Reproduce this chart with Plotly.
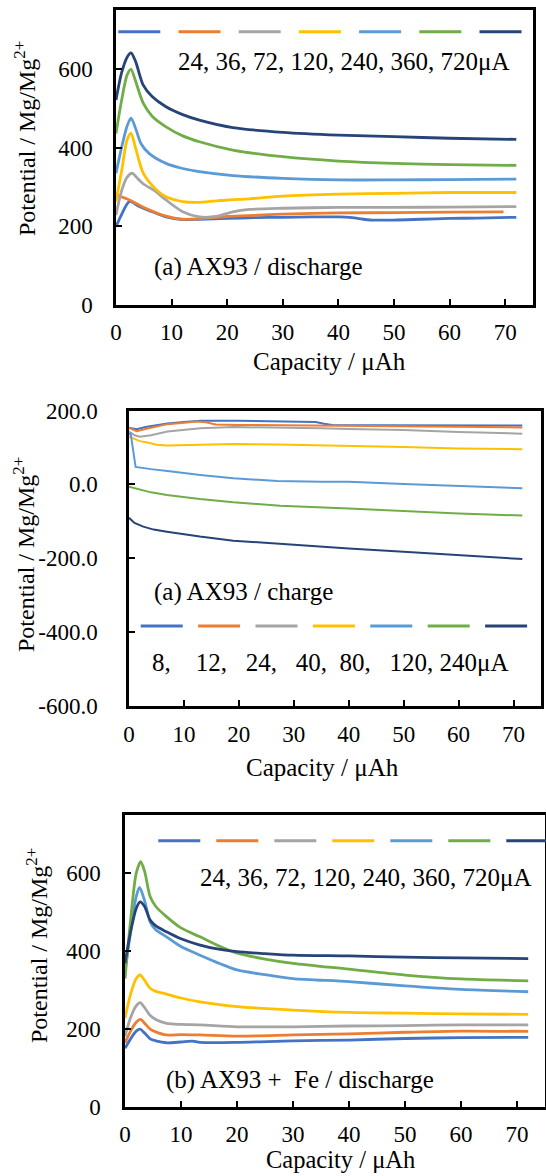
import plotly.graph_objects as go

W, H = 546, 1176
FONT = "Liberation Serif, Times New Roman, Tinos, DejaVu Serif, serif"
COLORS = ["#4472C4", "#ED7D31", "#A5A5A5", "#FFC000", "#5B9BD5", "#70AD47", "#264478"]

# ---------------- Panel 1: AX93 / discharge (24..720 uA) ----------------
p1_labels = ["24", "36", "72", "120", "240", "360", "720"]
p1_x = [
    [0, 1, 2.4, 4, 6, 9, 12, 15, 20, 25, 30, 35, 40, 42, 44, 46, 50, 55, 60, 65, 72],
    [0, 2.4, 5, 9, 12, 15, 20, 25, 30, 40, 50, 60, 69.7],
    [0, 1, 2, 2.9, 4, 5, 7, 9, 12, 15, 18, 21, 24, 30, 40, 50, 60, 72],
    [0, 1, 2, 2.7, 3.5, 4.9, 6.7, 9, 12, 15, 20, 24, 30, 40, 50, 60, 72],
    [0, 1, 2, 2.7, 3.5, 4.5, 6, 9, 12, 15, 21, 30, 40, 50, 60, 72],
    [0, 1, 2, 2.7, 3.5, 4.9, 6.5, 9, 12, 15, 21, 30, 40, 50, 60, 72],
    [0, 1, 2, 2.7, 3.5, 4.9, 6.5, 9, 12, 15, 21, 30, 40, 50, 60, 72],
]
p1_y = [
    [199, 230, 263, 252, 240, 224, 217, 218, 220, 222, 223, 224, 224, 223, 219, 216, 216, 218, 220, 221, 223],
    [280, 267, 248, 226, 218, 219, 225, 228, 231, 234, 235, 236, 237],
    [229, 290, 325, 335, 320, 307, 290, 267, 237, 224, 225, 237, 243, 246, 248, 248, 249, 250],
    [263, 340, 420, 437, 400, 335, 301, 275, 263, 261, 267, 270, 277, 282, 284, 286, 286],
    [335, 400, 455, 475, 450, 410, 385, 360, 347, 339, 329, 322, 318, 318, 319, 320],
    [436, 520, 585, 599, 570, 513, 480, 453, 430, 415, 394, 377, 366, 360, 357, 355],
    [521, 590, 630, 641, 620, 559, 530, 504, 484, 470, 451, 439, 432, 428, 424, 421],
]

# ---------------- Panel 2: AX93 / charge (8..240 uA) ----------------
p2_labels = ["8", "12", "24", "40", "80", "120", "240"]
p2_x = [
    [0, 1.4, 3, 5, 7, 10, 13, 20, 27, 34, 35.5, 37, 45, 55, 65, 71.6],
    [0, 1.4, 3, 5, 7, 10, 12.4, 14, 15.8, 20, 30, 35, 45, 55, 65, 71.6],
    [0, 1, 2, 4, 7, 10, 13, 19, 27, 35, 40, 50, 60, 71.6],
    [0, 1, 2, 3.8, 5, 7, 10, 13, 19, 27, 35, 40, 50, 60, 71.6],
    [0, 0.3, 1.2, 2, 4, 7, 10, 13, 19, 27, 35, 40, 50, 60, 71.6],
    [0, 2, 4, 6.9, 12.9, 19, 27.5, 40, 50, 60, 71.6],
    [0, 1, 2.6, 4.5, 6.9, 12.9, 19, 27.5, 40, 50, 60, 71.6],
]
p2_y = [
    [153, 149, 155, 161, 165, 169, 172, 172, 171, 169, 164, 161, 160, 160, 159, 159],
    [153, 144, 150, 157, 163, 167, 170, 168, 162, 161, 160, 159, 158, 157, 155, 154],
    [143, 133, 129, 133, 143, 148, 152, 155, 154, 152, 150, 147, 142, 137],
    [129, 123, 117, 112, 107, 105, 106, 108, 109, 108, 106, 105, 101, 97, 95],
    [135, 138, 47, 45, 41, 36, 30, 25, 16, 9, 7, 7, 1, -5, -11],
    [-7, -15, -22, -29, -40, -49, -58, -66, -73, -79, -85],
    [-91, -105, -115, -123, -129, -142, -153, -162, -174, -183, -192, -203],
]

# ---------------- Panel 3: AX93 + Fe / discharge (24..720 uA) ----------------
p3_labels = ["24", "36", "72", "120", "240", "360", "720"]
p3_x = [
    [0, 1, 2, 2.7, 3.5, 4.5, 5.5, 7.4, 10, 12, 13.4, 20, 30, 40, 50, 60, 72],
    [0, 1, 2, 2.8, 3.5, 4.5, 5.5, 7.4, 10, 13.4, 20, 30, 40, 50, 60, 72],
    [0, 1, 2, 2.7, 3.5, 4.5, 5.5, 7.4, 10, 13.4, 20, 30, 40, 50, 60, 72],
    [0, 1, 2, 2.7, 3.5, 4.5, 5.5, 7.4, 10, 13.4, 20, 30, 40, 50, 60, 72],
    [0, 1, 2, 2.6, 3.5, 4.5, 5.5, 7.4, 10, 13.4, 17, 20, 25, 30, 40, 50, 60, 72],
    [0, 1, 2, 2.8, 3.5, 4.5, 5.5, 7.4, 10, 13.4, 17, 20, 25, 30, 40, 50, 60, 72],
    [0, 1, 2, 2.7, 3.5, 4.5, 5.5, 7.4, 10, 13.4, 17, 20, 25, 30, 40, 50, 60, 72],
]
p3_y = [
    [151, 175, 195, 200, 190, 175, 170, 165, 167, 169, 166, 166, 170, 172, 176, 178, 179],
    [165, 195, 218, 225, 215, 200, 193, 185, 186, 185, 182, 185, 188, 192, 195, 194],
    [181, 230, 260, 268, 255, 235, 225, 215, 212, 211, 206, 206, 208, 209, 211, 211],
    [228, 290, 330, 339, 325, 305, 297, 290, 280, 270, 258, 249, 243, 241, 239, 238],
    [350, 450, 540, 564, 530, 475, 455, 437, 412, 390, 368, 352, 340, 330, 322, 311, 302, 296],
    [330, 480, 600, 630, 605, 540, 515, 489, 460, 437, 412, 395, 380, 369, 354, 339, 329, 324],
    [369, 450, 510, 527, 515, 480, 465, 450, 432, 416, 405, 399, 394, 390, 388, 385, 383, 381],
]

x_ticks = [0, 10, 20, 30, 40, 50, 60, 70]
dis_y_ticks = [0, 200, 400, 600]
chg_y_ticks = [-600, -400, -200, 0, 200]
chg_y_ticktext = [f"{v:.1f}" for v in chg_y_ticks]

# pixel helpers (layout only)
def px(x):
    return x / W
def py(y):
    return 1 - y / H

fig = go.Figure()

panels = [
    (p1_x, p1_y, p1_labels, "x", "y", 2.8, "spline", "μA discharge"),
    (p2_x, p2_y, p2_labels, "x2", "y2", 2.0, "linear", "μA charge"),
    (p3_x, p3_y, p3_labels, "x3", "y3", 2.8, "spline", "μA Fe discharge"),
]
for xs, ys, labs, xa, ya, lw, shape, suffix in panels:
    for i in range(7):
        fig.add_trace(go.Scatter(
            x=xs[i], y=ys[i], mode="lines", name=labs[i] + suffix,
            line=dict(color=COLORS[i], width=lw, shape=shape, smoothing=0.8 if shape == "spline" else None),
            xaxis=xa, yaxis=ya, showlegend=False, hoverinfo="x+y",
        ))

axis_common = dict(
    showline=True, linecolor="black", linewidth=2.5, mirror=True,
    ticks="inside", ticklen=6, tickwidth=2, tickcolor="black",
    showgrid=False, zeroline=False, automargin=False,
    tickfont=dict(family=FONT, size=23, color="black"),
)

# panel pixel boxes: (left, right, top, bottom)
box1 = (116, 533, 10, 305)
box2 = (129, 541, 410.5, 705.5)
box3 = (125, 545, 815, 1107)

def dom(b):
    return dict(xd=[px(b[0]), px(b[1])], yd=[py(b[3]), py(b[2])])

d1, d2, d3 = dom(box1), dom(box2), dom(box3)

fig.update_layout(
    template="none",
    width=W, height=H,
    margin=dict(l=0, r=0, t=0, b=0, pad=0, autoexpand=False),
    paper_bgcolor="white", plot_bgcolor="white",
    showlegend=False,
    font=dict(family=FONT, size=23, color="black"),
    xaxis=dict(domain=d1["xd"], anchor="y", range=[0, 75], tickvals=x_ticks,
               ticklabelstandoff=5, **axis_common),
    yaxis=dict(domain=d1["yd"], anchor="x", range=[0, 750], tickvals=dis_y_ticks,
               ticklabelstandoff=16, **axis_common),
    xaxis2=dict(domain=d2["xd"], anchor="y2", range=[0, 75], tickvals=x_ticks,
                ticklabelstandoff=6, **axis_common),
    yaxis2=dict(domain=d2["yd"], anchor="x2", range=[-600, 200], tickvals=chg_y_ticks,
                ticktext=chg_y_ticktext, ticklabelstandoff=24, **axis_common),
    xaxis3=dict(domain=d3["xd"], anchor="y3", range=[0, 75], tickvals=x_ticks,
                ticklabelstandoff=5, **axis_common),
    yaxis3=dict(domain=d3["yd"], anchor="x3", range=[0, 750], tickvals=dis_y_ticks,
                ticklabelstandoff=17, **axis_common),
)

# legend-style dash rows (one dash per series colour)
legend_rows = [
    (118.3, 60.2, 42, 31.7),
    (140.7, 57.4, 42, 626.0),
    (158.3, 58.0, 42, 840.7),
]
shapes = []
for x0, step, length, yy in legend_rows:
    for i, c in enumerate(COLORS):
        xs0 = x0 + i * step
        shapes.append(dict(type="line", xref="paper", yref="paper",
                           x0=px(xs0), x1=px(xs0 + length), y0=py(yy), y1=py(yy),
                           line=dict(color=c, width=3)))
fig.update_layout(shapes=shapes)

def ann(text, x, y, size=25, xanchor="left", angle=0):
    return dict(text=text, x=px(x), y=py(y), xref="paper", yref="paper",
                xanchor=xanchor, yanchor="middle", showarrow=False, textangle=angle,
                font=dict(family=FONT, size=size, color="black"))

NB = "\u00a0"
p2_legend_text = ("8," + NB * 4 + "12," + NB * 3 + "24," + NB * 3 + "40," + NB * 2 +
                  "80," + NB * 3 + "120," + NB + "240μA")

ytitle = "Potential / Mg/Mg<sup>2+</sup>"
annotations = [
    ann("24, 36, 72, 120, 240, 360, 720μA", 175.5, 61.7),
    ann("(a) AX93 / discharge", 152, 267),
    ann("(a) AX93 / charge", 152, 592),
    ann(p2_legend_text, 150, 662),
    ann("24, 36, 72, 120, 240, 360, 720μA", 197.5, 877),
    ann("(b) AX93 +" + NB + NB + "Fe / discharge", 163.5, 1080),
    ann("Capacity / μAh", 329, 362, xanchor="center"),
    ann("Capacity / μAh", 322, 768, xanchor="center"),
    ann("Capacity / μAh", 340, 1159, size=24.5, xanchor="center"),
    ann(ytitle, 25, 139, size=24, xanchor="center", angle=-90),
    ann(ytitle, 24, 555, size=24, xanchor="center", angle=-90),
    ann(ytitle, 37, 946, size=24, xanchor="center", angle=-90),
]
fig.update_layout(annotations=annotations)

fig.write_html(
    "out.html",
    config={"displayModeBar": False},
    post_script="document.body.style.margin='0px';document.body.style.overflow='hidden';",
)
